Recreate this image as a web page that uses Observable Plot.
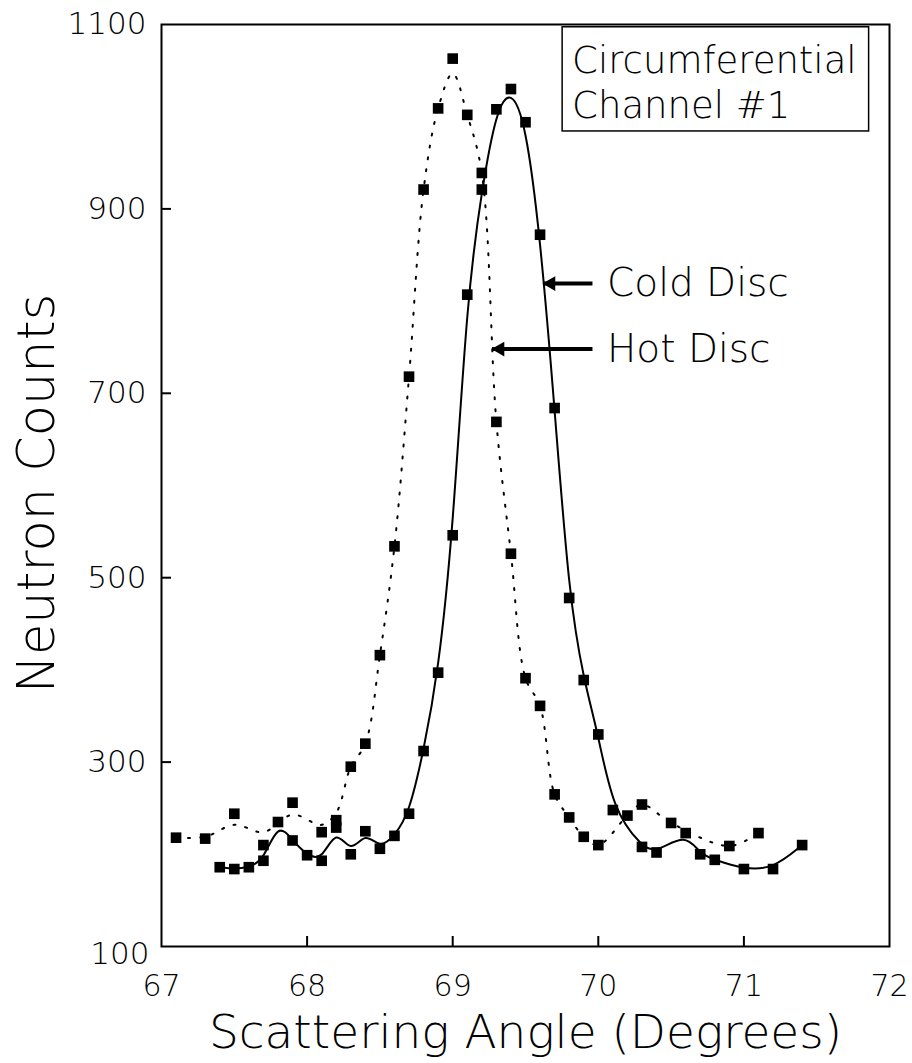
<!DOCTYPE html>
<html><head><meta charset="utf-8">
<script src="https://cdn.jsdelivr.net/npm/d3@7"></script>
<script src="https://cdn.jsdelivr.net/npm/@observablehq/plot@0.6"></script>
<style>body{margin:0;background:#fff}</style>
</head><body><div id="chart"></div>
<script>
// ---- data ----
const hotAngle  = [67.1,67.3,67.5,67.7,67.9,68.1,68.2,68.3,68.4,68.5,68.6,68.7,68.8,68.9,69.0,69.1,69.2,69.3,69.4,69.5,69.6,69.7,69.8,69.9,70.0,70.2,70.3,70.5,70.9,71.1];
const hotCounts = [218,217,244,210,256,224,237,295,320,416,534,718,921,1009,1063,1002,939,669,526,391,361,265,240,219,210,242,254,234,209,223];
// height of the dotted (fitted) hot-disc curve, read at the same angles
const hotCurve  = [218,219,232,224,243,232,245,295,320,416,534,718,921,1009,1047,1002,939,669,526,391,361,265,240,219,210,242,254,234,209,223];

const coldAngle  = [67.4,67.5,67.6,67.7,67.8,67.9,68.0,68.1,68.2,68.3,68.4,68.5,68.6,68.7,68.8,68.9,69.0,69.1,69.2,69.3,69.4,69.5,69.6,69.7,69.8,69.9,70.0,70.1,70.3,70.4,70.6,70.7,70.8,71.0,71.2,71.4];
const coldCounts = [186,184,186,193,235,215,199,193,229,200,225,206,220,244,312,397,546,807,921,1008,1030,994,872,684,478,389,330,248,208,202,223,200,194,184,184,210];

const xTickLabels = [67,68,69,70,71,72];
const yTickLabels = [100,300,500,700,900,1100];
const xInnerTicks = [68,69,70,71];
const yInnerTicks = [300,500,700,900];

const xTitle = "Scattering Angle (Degrees)";
const yTitle = "Neutron Counts";
const legendLines = ["Circumferential", "Channel #1"];
const noteLabels = ["Cold Disc", "Hot Disc"];

// annotation placement, in data units
const legendLevel = [1060, 1011];
const legendAngle = 69.82;
const legendBox = [{x1: 69.755, x2: 71.86, y1: 984, y2: 1097}];
const noteTip = [69.62, 69.27];
const noteTail = [69.96, 69.96];
const noteLevel = [819, 748];
const noteTextAngle = 70.06;

// ---- tables ----
const hot = hotAngle.map((a, i) => ({angle: a, counts: hotCounts[i], curve: hotCurve[i]}));
const cold = coldAngle.map((a, i) => ({angle: a, counts: coldCounts[i]}));
const points = [...hot, ...cold];
const legend = legendLines.map((t, i) => ({t, y: legendLevel[i]}));
const notes = noteLabels.map((t, i) => ({t, tip: noteTip[i], tail: noteTail[i], y: noteLevel[i]}));

const W = 912, H = 1063, mL = 161, mR = 23, mT = 24, mB = 117;
const font = "'DejaVu Sans', 'Liberation Sans', sans-serif";

const chart = Plot.plot({
  width: W, height: H,
  marginLeft: mL, marginRight: mR, marginTop: mT, marginBottom: mB,
  x: {domain: [67, 72]},
  y: {domain: [100, 1100]},
  style: {fontFamily: font, fontWeight: 200, background: "white", color: "black"},
  marks: [
    Plot.frame({stroke: "black", strokeWidth: 2}),
    Plot.tickX(xInnerTicks, {x: d => d, insetTop: (H - mT - mB) - 10, stroke: "black", strokeWidth: 2}),
    Plot.tickY(yInnerTicks, {y: d => d, insetRight: (W - mL - mR) - 10, stroke: "black", strokeWidth: 2}),
    Plot.axisX({ticks: xTickLabels, tickSize: 0, tickPadding: 28, fontSize: 30, tickFormat: d => String(d), label: null}),
    Plot.axisY({ticks: yTickLabels.filter(d => d !== 100), tickSize: 0, tickPadding: 15, fontSize: 31, tickFormat: d => String(d), label: null}),
    Plot.axisY({ticks: yTickLabels.filter(d => d === 100), tickSize: 0, tickPadding: 12, fontSize: 31, dy: 8, tickFormat: d => String(d), label: null}),
    Plot.text([xTitle], {frameAnchor: "bottom", dy: 101, lineAnchor: "bottom", textAnchor: "middle", text: d => d, fontSize: 47, fill: "black"}),
    Plot.text([yTitle], {frameAnchor: "left", dx: -108, dy: 8, rotate: -90, lineAnchor: "bottom", textAnchor: "middle", text: d => d, fontSize: 51, fill: "black"}),
    // fitted curves
    Plot.line(hot, {x: "angle", y: "curve", curve: "catmull-rom", stroke: "black", strokeWidth: 2, strokeDasharray: "2,10"}),
    Plot.line(cold, {x: "angle", y: "counts", curve: "basis", stroke: "black", strokeWidth: 2}),
    // measured points
    Plot.dot(points, {x: "angle", y: "counts", symbol: "square", r: 6, fill: "black", stroke: "none"}),
    // legend box
    Plot.rect(legendBox, {x1: "x1", x2: "x2", y1: "y1", y2: "y2", fill: "white", stroke: "black", strokeWidth: 1.5}),
    Plot.text(legend, {x: legendAngle, y: "y", text: "t", textAnchor: "start", fontSize: 37, fill: "black"}),
    // annotations: shaft plus filled head
    Plot.link(notes, {x1: "tail", x2: "tip", y1: "y", y2: "y", stroke: "black", strokeWidth: 4}),
    Plot.dot(notes, {x: "tip", y: "y", symbol: "triangle", rotate: -90, r: 5.5, dx: 8, fill: "black", stroke: "none"}),
    Plot.text(notes, {x: noteTextAngle, y: "y", text: "t", textAnchor: "start", fontSize: 39, fill: "black"})
  ]
});
document.getElementById("chart").appendChild(chart);
</script>
</body></html>
